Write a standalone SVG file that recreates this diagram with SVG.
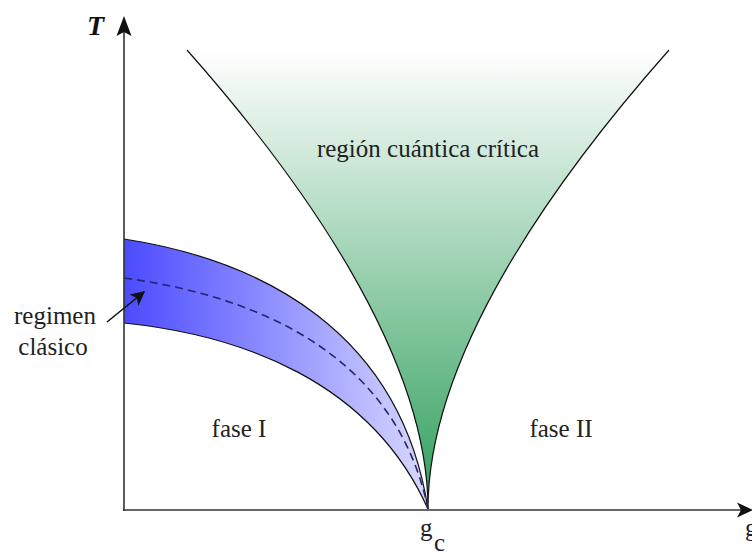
<svg xmlns="http://www.w3.org/2000/svg" width="752" height="556" viewBox="0 0 752 556">
<defs>
<linearGradient id="gGreen" gradientUnits="userSpaceOnUse" x1="0" y1="50" x2="0" y2="509">
<stop offset="0" stop-color="#ffffff"/>
<stop offset="1" stop-color="#2e9e5b"/>
</linearGradient>
<linearGradient id="gBlue" gradientUnits="userSpaceOnUse" x1="124" y1="0" x2="428" y2="0">
<stop offset="0" stop-color="#4b4bff"/>
<stop offset="1" stop-color="#d8d8ff"/>
</linearGradient>
<marker id="ah" viewBox="0 0 10 10" refX="9" refY="5" markerWidth="10" markerHeight="9" markerUnits="strokeWidth" orient="auto">
<path d="M0,0 L10,5 L0,10 L2.5,5 Z" fill="#111"/>
</marker>
<style>
.t{font-family:"Liberation Serif","Times New Roman",serif;fill:#222;font-size:25px}
.edge{fill:none;stroke:#111;stroke-width:1.2}
.axis{fill:none;stroke:#333;stroke-width:1.6}
</style>
</defs>
<g id="critical-region">
<path d="M187,50 C302,180 428,356 428,509 C428,356 554,180 669,50 Z" fill="url(#gGreen)"/>
<path class="edge" d="M187,50 C302,180 428,356 428,509 C428,356 554,180 669,50"/>
<text class="t" x="428" y="157" text-anchor="middle">región cuántica crítica</text>
</g>
<g id="classical-regime">
<path d="M124,239 C260,260 400,330 428,509 C370,380 240,335 124,323 Z" fill="url(#gBlue)"/>
<path class="edge" d="M124,239 C260,260 400,330 428,509"/>
<path class="edge" d="M124,323 C240,335 370,380 428,509"/>
<path d="M124,278 C250,295 395,350 428,509" fill="none" stroke="#262670" stroke-width="1.6" stroke-dasharray="8,5"/>
</g>
<g id="axes">
<line class="axis" x1="124" y1="511" x2="124" y2="30"/>
<polygon points="124,16 131.5,36 124,32 116.5,36" fill="#111"/>
<line class="axis" x1="123" y1="510" x2="742" y2="510"/>
<polygon points="753,510 737,502.5 741,510 737,517.5" fill="#111"/>
<text x="87" y="35" font-family="'Liberation Serif','Times New Roman',serif" font-style="italic" font-weight="bold" font-size="28" fill="#111">T</text>
<text class="t" x="420" y="536">g</text>
<text class="t" x="434" y="551" font-size="20">c</text>
<text class="t" x="745" y="536">g</text>
</g>
<g id="phase-I"><text class="t" x="239" y="437" text-anchor="middle">fase I</text></g>
<g id="phase-II"><text class="t" x="561" y="437" text-anchor="middle">fase II</text></g>
<g id="regimen-label">
<text class="t" x="55" y="324" text-anchor="middle">regimen</text>
<text class="t" x="53" y="355" text-anchor="middle">clásico</text>
</g>
<g id="connectors">
<line x1="107" y1="322" x2="144" y2="292" stroke="#111" stroke-width="1.6" marker-end="url(#ah)"/>
</g>
</svg>
